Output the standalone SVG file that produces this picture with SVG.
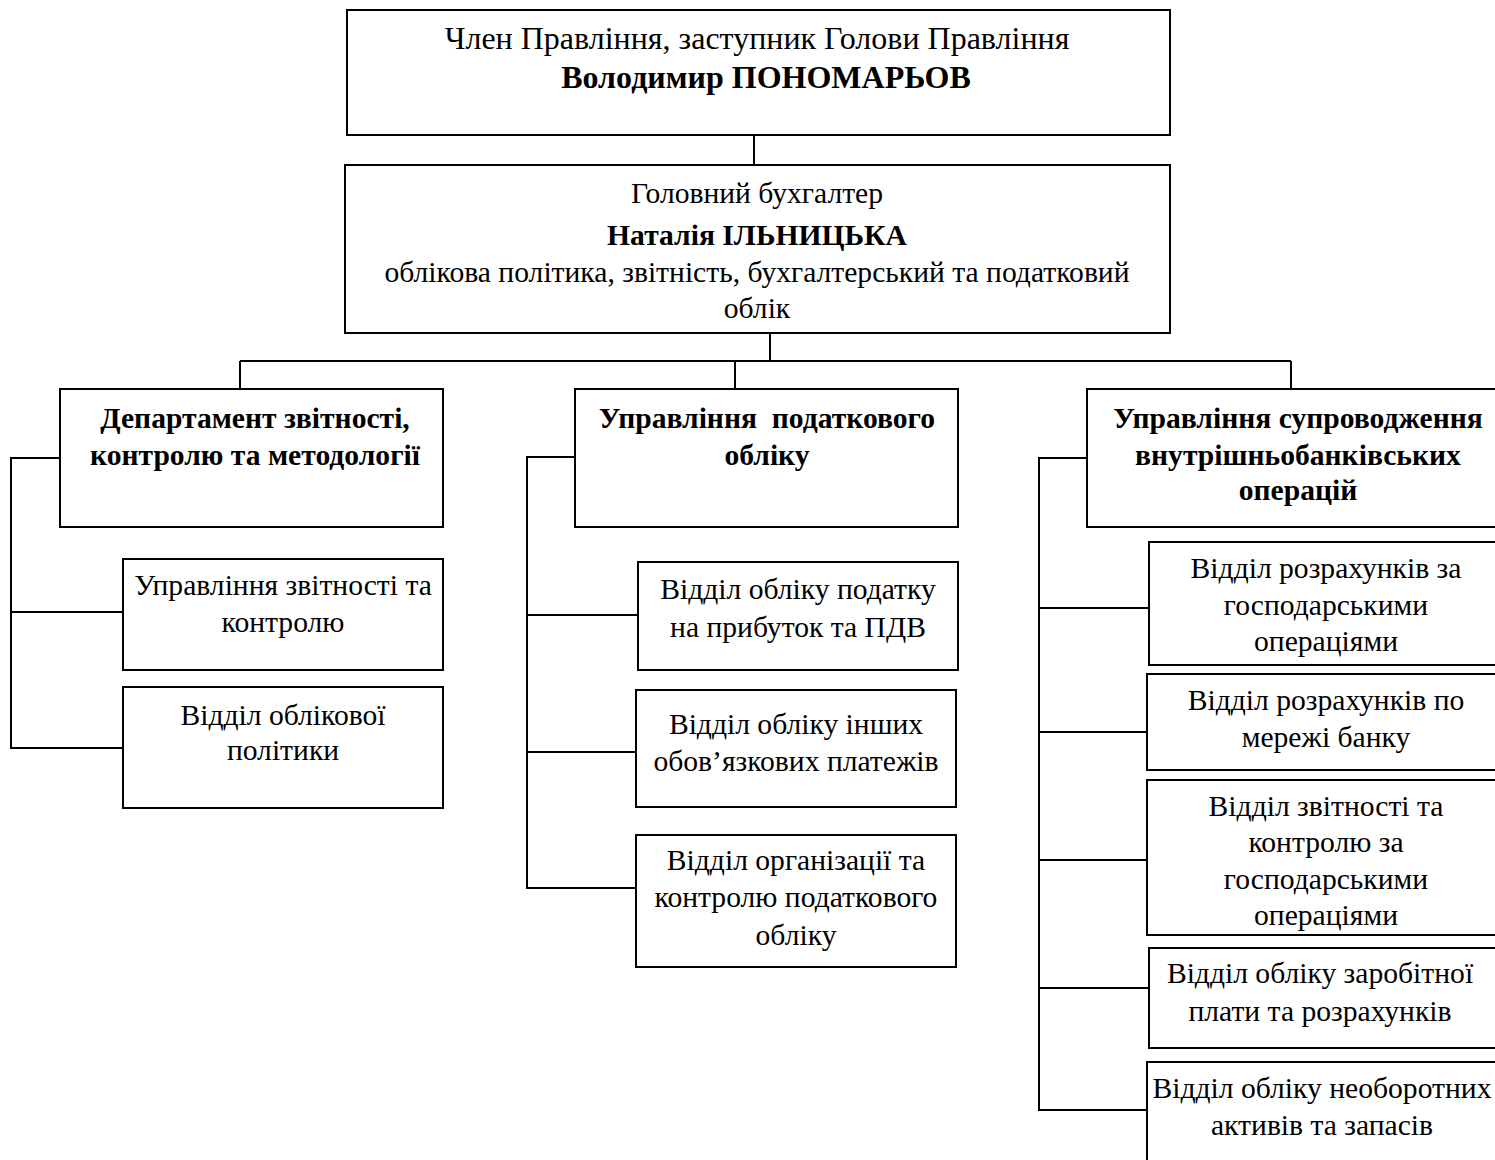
<svg xmlns="http://www.w3.org/2000/svg" width="1495" height="1160" viewBox="0 0 1495 1160">
<style>
rect{fill:#fff;stroke:#000;stroke-width:2}
text{font-family:"Liberation Serif","Times New Roman",serif;font-size:29.6px;text-anchor:middle;fill:#000}
.b{font-weight:bold}
.t{font-size:32px}
#connectors path{fill:none;stroke:#000;stroke-width:2}
</style>
<rect x="0" y="0" width="1495" height="1160" style="stroke:none"/>
<g id="connectors">
<path d="M754 135V165"/>
<path d="M770 333V361M240 361H1291M240 361V389M735 361V389M1291 361V389"/>
<path d="M60 458H11V748H123M11 612H123"/>
<path d="M575 457H527V888H636M527 615H638M527 752H636"/>
<path d="M1087 458H1039V1110H1147M1039 608H1149M1039 732H1147M1039 860H1147M1039 988H1149"/>
</g>
<g id="n-top">
<rect x="347" y="10" width="823" height="125"/>
<text x="757" y="49" class="t">Член Правління, заступник Голови Правління</text>
<text x="766" y="88" class="t b">Володимир ПОНОМАРЬОВ</text>
</g>
<g id="n-chief">
<rect x="345" y="165" width="825" height="168"/>
<text x="757" y="203">Головний бухгалтер</text>
<text x="757" y="245" class="b">Наталія ІЛЬНИЦЬКА</text>
<text x="757" y="282">облікова політика, звітність, бухгалтерський та податковий</text>
<text x="757" y="318">облік</text>
</g>
<g id="n-dep">
<rect x="60" y="389" width="383" height="138"/>
<text x="255" y="428" class="b">Департамент звітності,</text>
<text x="255" y="465" class="b">контролю та методології</text>
</g>
<g id="n-a1">
<rect x="123" y="559" width="320" height="111"/>
<text x="283" y="595">Управління звітності та</text>
<text x="283" y="632">контролю</text>
</g>
<g id="n-a2">
<rect x="123" y="687" width="320" height="121"/>
<text x="283" y="725">Відділ облікової</text>
<text x="283" y="760">політики</text>
</g>
<g id="n-tax">
<rect x="575" y="389" width="383" height="138"/>
<text x="767" y="428" class="b" xml:space="preserve">Управління  податкового</text>
<text x="767" y="465" class="b">обліку</text>
</g>
<g id="n-b1">
<rect x="638" y="562" width="320" height="108"/>
<text x="798" y="599">Відділ обліку податку</text>
<text x="798" y="637">на прибуток та ПДВ</text>
</g>
<g id="n-b2">
<rect x="636" y="690" width="320" height="117"/>
<text x="796" y="734">Відділ обліку інших</text>
<text x="796" y="771">обов’язкових платежів</text>
</g>
<g id="n-b3">
<rect x="636" y="835" width="320" height="132"/>
<text x="796" y="870">Відділ організації та</text>
<text x="796" y="907">контролю податкового</text>
<text x="796" y="945">обліку</text>
</g>
<g id="n-ops">
<rect x="1087" y="389" width="420" height="138"/>
<text x="1298" y="428" class="b">Управління супроводження</text>
<text x="1298" y="465" class="b">внутрішньобанківських</text>
<text x="1298" y="500" class="b">операцій</text>
</g>
<g id="n-c1">
<rect x="1149" y="542" width="360" height="123"/>
<text x="1326" y="578">Відділ розрахунків за</text>
<text x="1326" y="615">господарськими</text>
<text x="1326" y="651">операціями</text>
</g>
<g id="n-c2">
<rect x="1147" y="674" width="360" height="96"/>
<text x="1326" y="710">Відділ розрахунків по</text>
<text x="1326" y="747">мережі банку</text>
</g>
<g id="n-c3">
<rect x="1147" y="780" width="360" height="155"/>
<text x="1326" y="816">Відділ звітності та</text>
<text x="1326" y="852">контролю за</text>
<text x="1326" y="889">господарськими</text>
<text x="1326" y="925">операціями</text>
</g>
<g id="n-c4">
<rect x="1149" y="948" width="360" height="100"/>
<text x="1320" y="983">Відділ обліку заробітної</text>
<text x="1320" y="1021">плати та розрахунків</text>
</g>
<g id="n-c5">
<rect x="1147" y="1062" width="360" height="110"/>
<text x="1322" y="1098">Відділ обліку необоротних</text>
<text x="1322" y="1135">активів та запасів</text>
</g>
</svg>
